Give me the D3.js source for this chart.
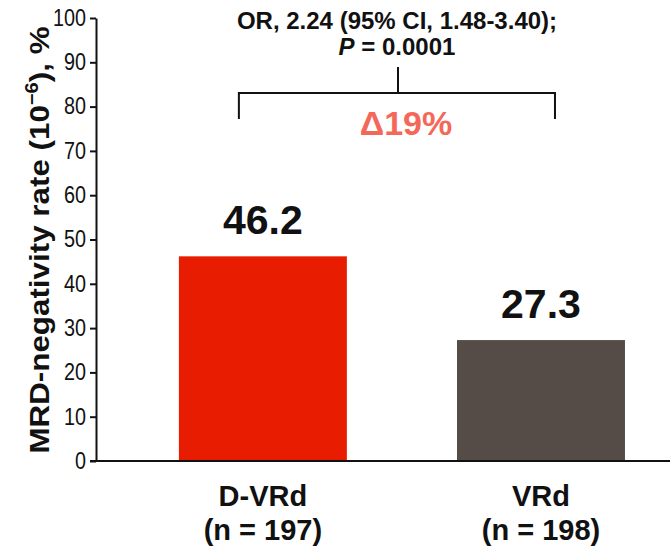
<!DOCTYPE html>
<html><head><meta charset="utf-8">
<script src="https://cdn.jsdelivr.net/npm/d3@7"></script>
<style>body{margin:0;background:#fff}svg{display:block}text{font-family:"Liberation Sans",Arial,sans-serif}</style>
</head><body><svg id="c" width="670" height="548"></svg>
<script>
const categories = ["D-VRd", "VRd"];
const sampleSizes = ["(n = 197)", "(n = 198)"];
const values = [46.2, 27.3];
const valueLabels = ["46.2", "27.3"];
const barColors = ["#e81c00", "#554c48"];
const yTicks = [0,10,20,30,40,50,60,70,80,90,100];
const statLine1 = "OR, 2.24 (95% CI, 1.48-3.40);";
const statP = "0.0001";
const deltaLabel = "\u039419%";

const svg = d3.select("#c");
const y = d3.scaleLinear().domain([0,100]).range([461,18]);
const x = d3.scaleBand().domain(categories).range([96,670]).paddingInner(0.396).paddingOuter(0.23).align(0.648);

// y axis
const ya = d3.axisLeft(y).tickValues(yTicks).tickSize(6).tickSizeOuter(0).tickPadding(5);
const gy = svg.append("g").attr("transform","translate(96,0)").call(ya);
gy.select(".domain").attr("stroke","#111").attr("stroke-width",2);
gy.selectAll(".tick line").attr("stroke","#111").attr("stroke-width",2);
const sx = 0.86;
gy.selectAll(".tick text").attr("font-size",23).attr("fill","#111")
  .attr("font-family","'Liberation Sans',Arial,sans-serif")
  .attr("x",-10/sx).attr("transform",`scale(${sx},1)`);

// bars
svg.selectAll("rect.bar").data(values).join("rect").attr("class","bar")
  .attr("x",(d,i)=>x(categories[i])).attr("width",x.bandwidth())
  .attr("y",d=>y(d)).attr("height",d=>y(0)-y(d)).attr("fill",(d,i)=>barColors[i]);

// x axis line
svg.append("line").attr("x1",90).attr("x2",670).attr("y1",y(0)).attr("y2",y(0)).attr("stroke","#111").attr("stroke-width",2);

// value labels
svg.selectAll("text.val").data(values).join("text").attr("class","val")
  .attr("x",(d,i)=>x(categories[i])+x.bandwidth()/2).attr("y",d=>y(d)-22)
  .attr("text-anchor","middle").attr("font-size",41).attr("font-weight","bold").attr("fill","#111")
  .text((d,i)=>valueLabels[i]);

// category labels
categories.forEach((c,i)=>{
  const cx = x(c)+x.bandwidth()/2;
  svg.append("text").attr("x",cx).attr("y",506).attr("text-anchor","middle").attr("font-size",29).attr("font-weight","bold").attr("fill","#111").text(c);
  svg.append("text").attr("x",cx).attr("y",540).attr("text-anchor","middle").attr("font-size",29).attr("font-weight","bold").attr("fill","#111").text(sampleSizes[i]);
});

// y title
const yt = svg.append("text").attr("transform","translate(49,240) rotate(-90) scale(1.12,1)").attr("text-anchor","middle")
  .attr("font-size",28).attr("font-weight","bold").attr("fill","#111");
yt.append("tspan").text("MRD-negativity rate (10");
yt.append("tspan").attr("font-size",18).attr("dy",-11).text("\u22126");
yt.append("tspan").attr("dy",11).text("), %");

// bracket
const xl = x(categories[0])+x.bandwidth()/2 - 24, xr = x(categories[1])+x.bandwidth()/2 + 14;
const xm = 398, yb = 93;
svg.append("path").attr("d",`M${xl},119V${yb}H${xr}V119`).attr("fill","none").attr("stroke","#111").attr("stroke-width",2);
svg.append("line").attr("x1",xm).attr("x2",xm).attr("y1",67).attr("y2",yb).attr("stroke","#111").attr("stroke-width",2);

// stats text
svg.append("text").attr("x",397).attr("y",29).attr("text-anchor","middle").attr("font-size",24).attr("font-weight","bold").attr("fill","#111").text(statLine1);
const pt = svg.append("text").attr("x",397).attr("y",55).attr("text-anchor","middle").attr("font-size",24).attr("font-weight","bold").attr("fill","#111");
pt.append("tspan").attr("font-style","italic").text("P");
pt.append("tspan").text(" = " + statP);

svg.append("text").attr("x",406).attr("y",135).attr("text-anchor","middle").attr("font-size",34).attr("font-weight","bold").attr("fill","#f4685a").text(deltaLabel);
</script></body></html>
